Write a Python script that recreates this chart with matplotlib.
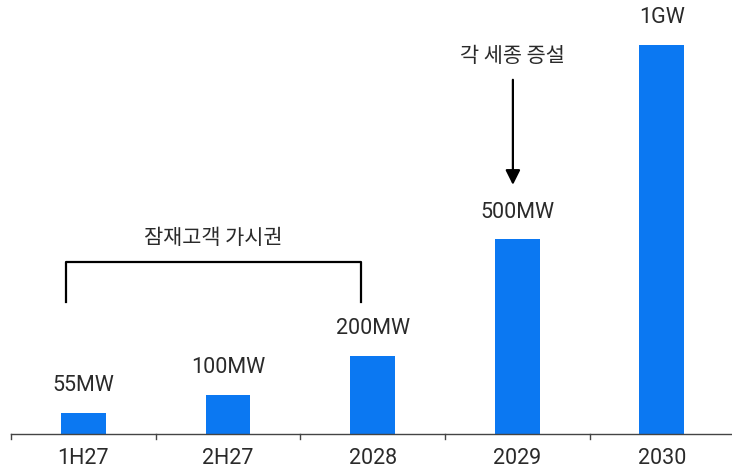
import matplotlib.pyplot as plt

plt.rcParams['font.family'] = ['Roboto', 'Noto Sans CJK KR', 'DejaVu Sans']

periods = ['1H27', '2H27', '2028', '2029', '2030']
capacity_mw = [55, 100, 200, 500, 1000]
value_labels = ['55MW', '100MW', '200MW', '500MW', '1GW']

fig = plt.figure(figsize=(7.32, 4.71), dpi=100)
ax = fig.add_axes([0.015, 0.0786, 0.988, 0.909])

x = range(len(periods))
bars = ax.bar(x, capacity_mw, width=0.31, color='#0b78f2')

for b, lab in zip(bars, value_labels):
    ax.annotate(lab, (b.get_x() + b.get_width() / 2, b.get_height()),
                xytext=(0, 12), textcoords='offset points',
                ha='center', va='bottom', fontsize=15.5, color='#2a2a2a')

ax.set_xlim(-0.5, 4.5)
ax.set_ylim(0, 1100)
ax.set_xticks(list(x))
ax.set_xticklabels(periods, fontsize=15.5, color='#2a2a2a')
ax.tick_params(axis='x', length=0, pad=10)
ax.set_yticks([])

# separators between categories
for xs in [-0.5, 0.5, 1.5, 2.5, 3.5, 4.5]:
    ax.plot([xs, xs], [0, -12], color='#444444', lw=1, clip_on=False)

for side in ['top', 'right', 'left']:
    ax.spines[side].set_visible(False)
ax.spines['bottom'].set_color('#444444')
ax.spines['bottom'].set_linewidth(1)

kr = ['Noto Sans CJK KR', 'DejaVu Sans']

# bracket over the first three periods
ax.plot([-0.12, -0.12, 1.92, 1.92], [339, 442, 442, 339], color='black', lw=1.6)
ax.text(0.9, 504, '잠재고객 가시권', ha='center', va='center',
        fontsize=15, color='#2a2a2a', family=kr)

# arrow pointing to 2029
ax.annotate('', xy=(2.97, 640), xytext=(2.97, 910),
            arrowprops=dict(arrowstyle='-|>', color='black', lw=1.6,
                            mutation_scale=22, shrinkA=0, shrinkB=0))
ax.text(2.97, 972, '각 세종 증설', ha='center', va='center',
        fontsize=15, color='#2a2a2a', family=kr)

fig.savefig('out.png', dpi=100)
